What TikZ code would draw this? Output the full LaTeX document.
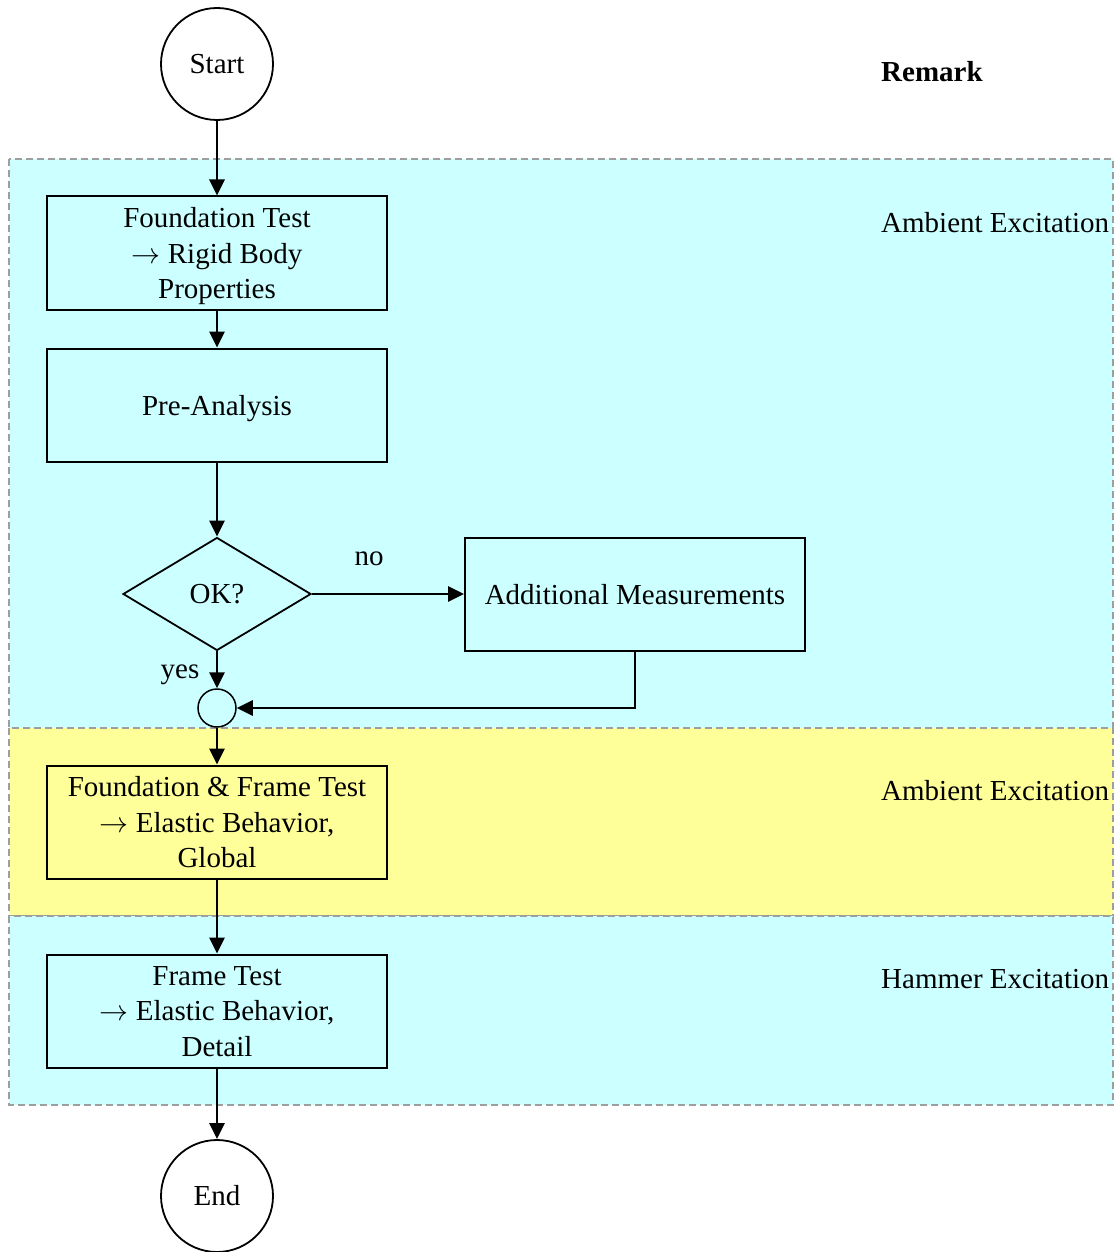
\documentclass[tikz,border=0pt]{standalone}
\usepackage{fix-cm}
\usepackage{fontspec}
\setmainfont{Liberation Serif}
\usetikzlibrary{arrows.meta, positioning, shapes.geometric}
\definecolor{bandcyan}{RGB}{204,255,255}
\definecolor{bandyellow}{RGB}{255,255,153}
\definecolor{bandgray}{gray}{0.62}

\tikzset{
	procbox/.style={draw, line width=2pt, minimum width=340pt, minimum height=113pt, align=center, inner sep=0pt, text depth=0pt},
	termin/.style={draw, circle, line width=1.8pt, minimum size=112pt, inner sep=0pt},
	decide/.style={draw, diamond, aspect=1.66, line width=1.8pt, minimum width=188pt, minimum height=113pt, inner sep=0pt},
	flow/.style={line width=2.8pt, -{Triangle[length=16pt, width=15pt]}},
	band/.style={draw=bandgray, line width=1.5pt, dash pattern=on 7pt off 4pt},
	remark/.style={anchor=base west, inner sep=0pt},
}

\begin{document}
\begin{tikzpicture}[x=1pt, y=-1pt, font=\fontsize{29pt}{35.5pt}\selectfont]

\def \xl{9}    % left edge of bands
\def \xr{1113} % right edge of bands
\def \xc{217}  % main column

\useasboundingbox (0,0) rectangle (1115,1252);

% bands
\draw[band, fill=bandcyan]   (\xl, 159) rectangle (\xr, 728);
\draw[band, fill=bandyellow] (\xl, 728) rectangle (\xr, 916);
\draw[band, fill=bandcyan]   (\xl, 916) rectangle (\xr,1105);

% remarks column
\node[remark] (remhead) at (881, 82) {\bfseries Remark};
\foreach \lbl/\yy [count=\i] in {Ambient Excitation/232, Ambient Excitation/800, Hammer Excitation/988} {
	\node[remark] (rem\i) at (881, \yy) {\lbl};
}

% flow chart
\node[termin]  (start)   at (\xc,  64) {Start};
\node[procbox] (found)   at (\xc, 253) {Foundation Test\\ $\rightarrow$ Rigid Body\\ Properties};
\node[procbox] (preana)  at (\xc, 405) {Pre-Analysis};
\node[decide]  (okq)     at (\xc, 594) {OK?};
\node[procbox] (addmeas) at (635, 594) {Additional Measurements};
\node[draw, circle, line width=1.5pt, minimum size=38pt, inner sep=0pt] (junc) at (\xc, 708) {};
\node[procbox] (fft)     at (\xc, 822) {Foundation \& Frame Test\\ $\rightarrow$ Elastic Behavior,\\ Global};
\node[procbox] (frame)   at (\xc,1011) {Frame Test\\ $\rightarrow$ Elastic Behavior,\\ Detail};
\node[termin]  (stop)    at (\xc,1196) {End};

\node (nolbl)  at (369, 559) {no};
\node (yeslbl) at (180, 675) {yes};

\draw[flow] (start)   -- (found);
\draw[flow] (found)   -- (preana);
\draw[flow] (preana)  -- (okq);
\draw[flow] (okq)     -- (addmeas);
\draw[flow] (okq)     -- (junc);
\draw[flow] (addmeas.south) |- (junc.east);
\draw[flow] (junc)    -- (fft);
\draw[flow] (fft)     -- (frame);
\draw[flow] (frame)   -- (stop);

\end{tikzpicture}
\end{document}
